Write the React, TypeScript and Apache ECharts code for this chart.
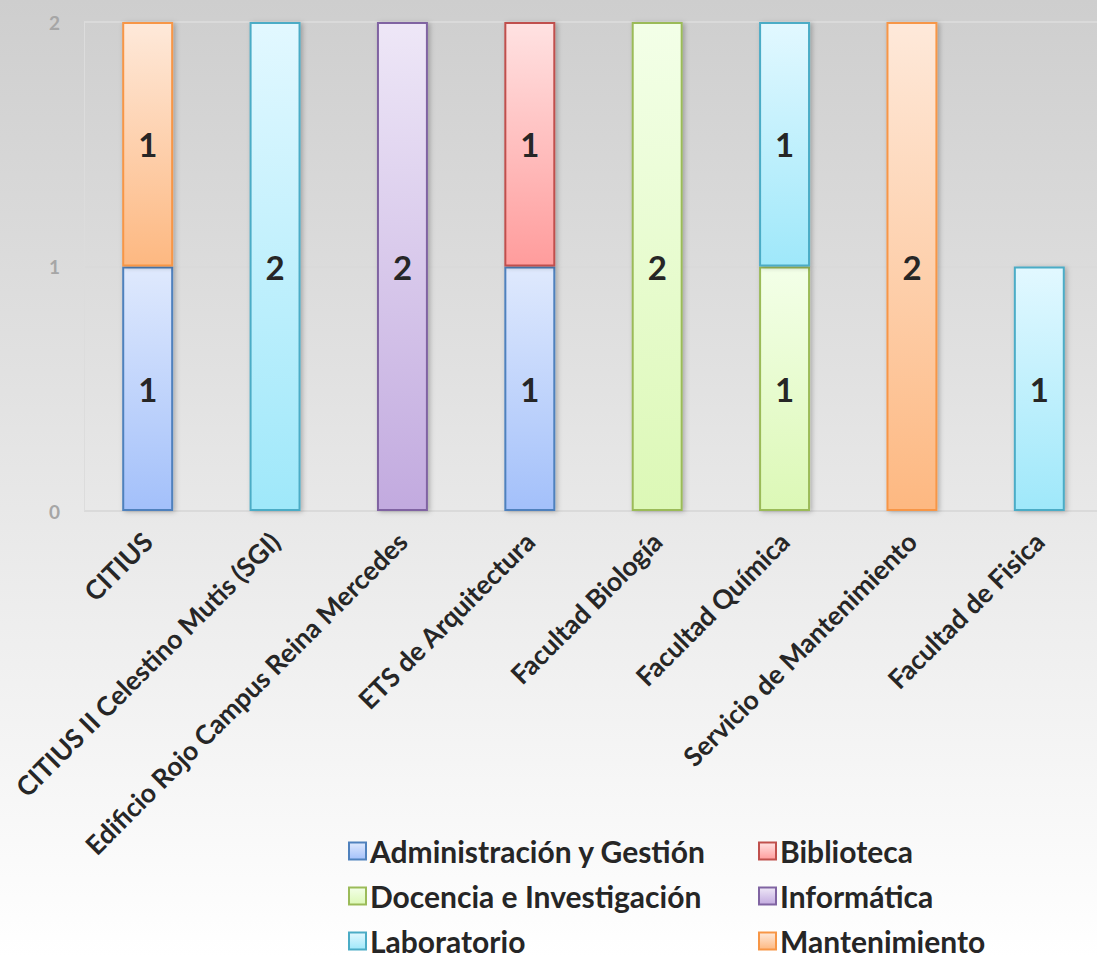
import React, { useEffect, useRef } from "react";
import * as echarts from "echarts";

const categories = [
  "CITIUS",
  "CITIUS II Celestino Mutis (SGI)",
  "Edificio Rojo Campus Reina Mercedes",
  "ETS de Arquitectura",
  "Facultad Biología",
  "Facultad Química",
  "Servicio de Mantenimiento",
  "Facultad de Fisica",
];

const seriesNames = [
  "Administración y Gestión",
  "Biblioteca",
  "Docencia e Investigación",
  "Informática",
  "Laboratorio",
  "Mantenimiento",
];

const adminValues = [1, 0, 0, 1, 0, 0, 0, 0];
const bibliotecaValues = [0, 0, 0, 1, 0, 0, 0, 0];
const docenciaValues = [0, 0, 0, 0, 2, 1, 0, 0];
const informaticaValues = [0, 0, 2, 0, 0, 0, 0, 0];
const laboratorioValues = [0, 2, 0, 0, 0, 1, 0, 1];
const mantenimientoValues = [1, 0, 0, 0, 0, 0, 2, 0];

const yTicks = [0, 1, 2];

const seriesValues = [
  adminValues,
  bibliotecaValues,
  docenciaValues,
  informaticaValues,
  laboratorioValues,
  mantenimientoValues,
];

const palette = [
  { top: "#dfe9fd", bottom: "#a3c0fa", border: "#4f81bd" },
  { top: "#ffe2e2", bottom: "#ff9c9c", border: "#c0504d" },
  { top: "#f3ffe8", bottom: "#dcf8b6", border: "#9bbb59" },
  { top: "#eee7f7", bottom: "#c2aadf", border: "#8064a2" },
  { top: "#e2f8ff", bottom: "#9fe8fa", border: "#4bacc6" },
  { top: "#fee9da", bottom: "#fdb881", border: "#f79646" },
];

const FONT = "Lato, 'Open Sans', sans-serif";

export default function App() {
  const ref = useRef<HTMLDivElement>(null);
  useEffect(() => {
    if (!ref.current) return;
    const chart = echarts.init(ref.current, null, { renderer: "svg" });
    const series = seriesNames.map((name, i) => ({
      name,
      type: "bar",
      stack: "total",
      barWidth: "40%",
      data: seriesValues[i].map((v) => (v === 0 ? "-" : v)),
      itemStyle: {
        color: new echarts.graphic.LinearGradient(0, 0, 0, 1, [
          { offset: 0, color: palette[i].top },
          { offset: 1, color: palette[i].bottom },
        ]),
        borderColor: palette[i].border,
        borderWidth: 2,
        shadowBlur: 5,
        shadowOffsetX: 2,
        shadowOffsetY: 1,
        shadowColor: "rgba(0,0,0,0.25)",
      },
      label: {
        show: true,
        position: "inside",
        fontFamily: FONT,
        fontWeight: "bold",
        fontSize: 33,
        color: "#262626",
      },
    }));
    const legendCommon = {
      orient: "vertical",
      icon: "rect",
      itemWidth: 17,
      itemHeight: 17,
      itemGap: 15,
      height: 200,
      textStyle: {
        fontFamily: FONT,
        fontWeight: "bold",
        fontSize: 30,
        color: "#262626",
        lineHeight: 28,
        padding: [0, 0, 0, -1],
      },
    };
    chart.setOption({
      animation: false,
      backgroundColor: new echarts.graphic.LinearGradient(0, 0, 0, 1, [
        { offset: 0, color: "#cecece" },
        { offset: 1, color: "#ffffff" },
      ]),
      grid: {
        left: 84,
        top: 22,
        width: 1019,
        height: 489,
        containLabel: false,
        outerBoundsMode: "none",
      },
      xAxis: {
        type: "category",
        data: categories,
        axisTick: { show: false },
        axisLine: {
          lineStyle: {
            color: "#bdbdbd",
            width: 2,
            shadowBlur: 5,
            shadowOffsetY: 3,
            shadowColor: "rgba(0,0,0,0.45)",
          },
        },
        axisLabel: {
          rotate: 45,
          interval: 0,
          margin: 26,
          fontFamily: FONT,
          fontWeight: "bold",
          fontSize: 26.5,
          color: "#262626",
        },
      },
      yAxis: {
        type: "value",
        min: yTicks[0],
        max: yTicks[yTicks.length - 1],
        interval: 1,
        axisLine: { show: true, lineStyle: { color: "#dcdcdc", width: 1 } },
        axisTick: { show: false },
        splitLine: { lineStyle: { color: "#dadada", width: 2 } },
        axisLabel: {
          margin: 24,
          fontFamily: FONT,
          fontWeight: "bold",
          fontSize: 19,
          color: "#a6a6a6",
        },
      },
      legend: [
        {
          ...legendCommon,
          left: 343,
          top: 831,
          data: [seriesNames[0], seriesNames[2], seriesNames[4]],
        },
        {
          ...legendCommon,
          left: 753,
          top: 831,
          data: [seriesNames[1], seriesNames[3], seriesNames[5]],
        },
      ],
      series,
    });
    return () => chart.dispose();
  }, []);
  return (
    <div
      ref={ref}
      style={{ position: "absolute", left: 0, top: 0, width: 1097, height: 957 }}
    />
  );
}
